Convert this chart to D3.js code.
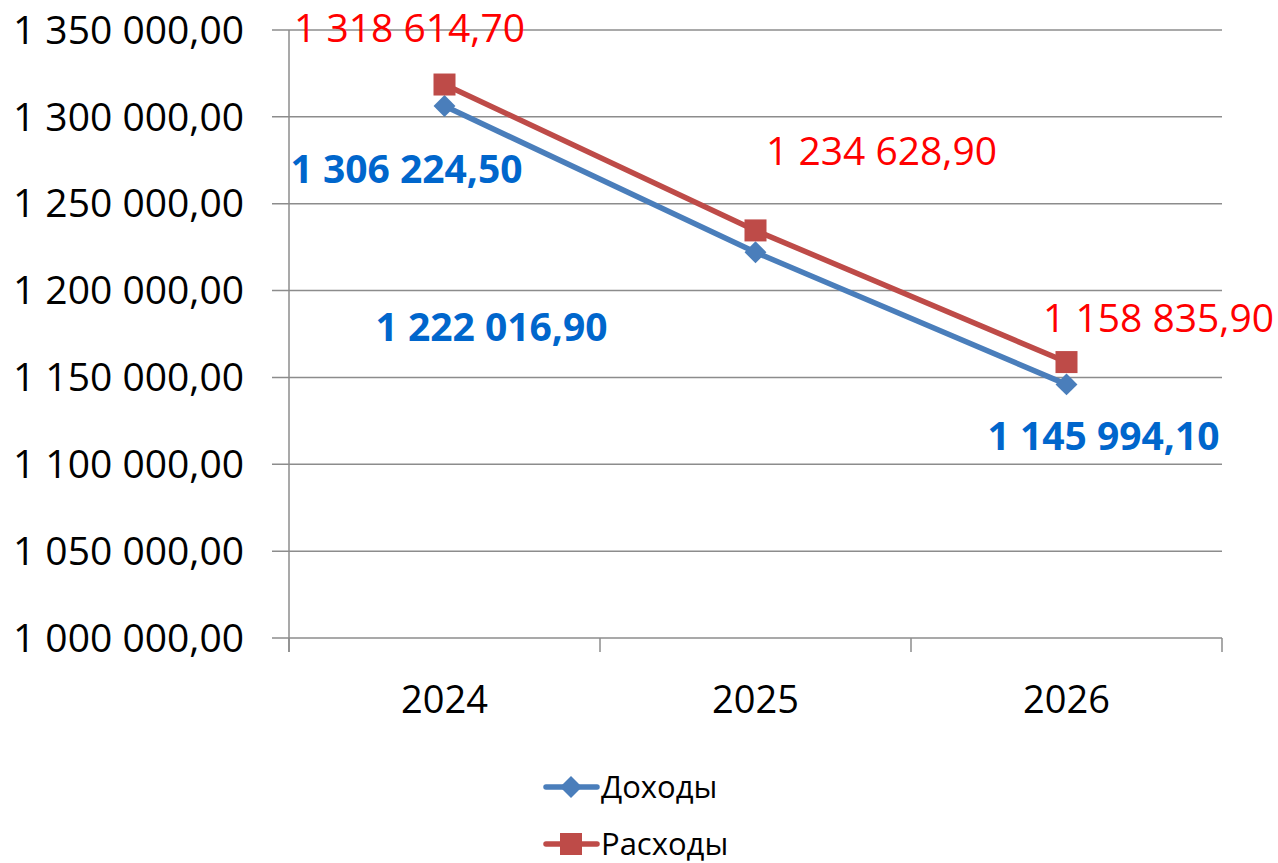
<!DOCTYPE html>
<html>
<head>
<meta charset="utf-8">
<script src="https://cdn.jsdelivr.net/npm/d3@7"></script>
<style>
  body { margin: 0; background: #fff; }
  svg text { font-family: "Open Sans", sans-serif; }
</style>
</head>
<body>
<svg id="chart" width="1278" height="863"></svg>
<script>
// data
var years = ["2024", "2025", "2026"];
var seriesNames = ["Доходы", "Расходы"];
var incomeValues = [1306224.50, 1222016.90, 1145994.10];
var expenseValues = [1318614.70, 1234628.90, 1158835.90];
var yTicks = [1000000, 1050000, 1100000, 1150000, 1200000, 1250000, 1300000, 1350000];

// label nudges (px, relative to the point) as placed in the original
var incomeLabelShift = [[-38, 63], [-264, 75], [37, 52]];
var expenseLabelShift = [[-35, -56], [126, -79], [92, -44]];

var svg = d3.select("#chart");
var margin = { left: 289, right: 1222, top: 30, bottom: 638 };

var x = d3.scaleBand().domain(years).range([margin.left, margin.right]);
var y = d3.scaleLinear().domain([1000000, 1350000]).range([margin.bottom, margin.top]);

var fmt = function(v) {
  var s = v.toFixed(2).split(".");
  var intPart = s[0].replace(/\B(?=(\d{3})+(?!\d))/g, " ");
  return intPart + "," + s[1];
};

var grid = "#8c8c8c";

// gridlines
svg.append("g").selectAll("line").data(yTicks).join("line")
  .attr("x1", margin.left - 17).attr("x2", margin.right)
  .attr("y1", d => y(d)).attr("y2", d => y(d))
  .attr("stroke", grid).attr("stroke-width", 1.5);

// y axis line
svg.append("line")
  .attr("x1", margin.left).attr("x2", margin.left)
  .attr("y1", margin.top).attr("y2", margin.bottom + 14)
  .attr("stroke", grid).attr("stroke-width", 1.5);

// x ticks between categories
var xEdges = years.map(d => x(d)).concat([margin.right]);
svg.append("g").selectAll("line").data(xEdges).join("line")
  .attr("x1", d => d).attr("x2", d => d)
  .attr("y1", margin.bottom).attr("y2", margin.bottom + 14)
  .attr("stroke", grid).attr("stroke-width", 1.5);

// y labels
svg.append("g").selectAll("text").data(yTicks).join("text")
  .attr("x", 244).attr("y", d => y(d))
  .attr("dy", "0.35em")
  .attr("text-anchor", "end")
  .attr("font-size", 39)
  .attr("fill", "#000")
  .text(d => fmt(d));

// x labels
svg.append("g").selectAll("text").data(years).join("text")
  .attr("x", d => x(d) + x.bandwidth() / 2)
  .attr("y", 700).attr("dy", "0.35em")
  .attr("text-anchor", "middle")
  .attr("font-size", 38)
  .attr("fill", "#000")
  .text(d => d);

var blue = "#4a7ebb", red = "#be4b48";
var line = d3.line().x((d, i) => x(years[i]) + x.bandwidth() / 2).y(d => y(d));

svg.append("path").datum(incomeValues).attr("d", line)
  .attr("fill", "none").attr("stroke", blue).attr("stroke-width", 5.5).attr("stroke-linejoin", "round");
svg.append("path").datum(expenseValues).attr("d", line)
  .attr("fill", "none").attr("stroke", red).attr("stroke-width", 5.5).attr("stroke-linejoin", "round");

var diamond = d3.symbol().type(d3.symbolSquare).size(240);
svg.append("g").selectAll("path").data(incomeValues).join("path")
  .attr("d", diamond)
  .attr("transform", (d, i) => "translate(" + (x(years[i]) + x.bandwidth() / 2) + "," + y(d) + ") rotate(45)")
  .attr("fill", blue);

svg.append("g").selectAll("rect").data(expenseValues).join("rect")
  .attr("x", (d, i) => x(years[i]) + x.bandwidth() / 2 - 11)
  .attr("y", d => y(d) - 11)
  .attr("width", 22).attr("height", 22)
  .attr("fill", red);

// data labels
svg.append("g").selectAll("text").data(expenseValues).join("text")
  .attr("x", (d, i) => x(years[i]) + x.bandwidth() / 2 + expenseLabelShift[i][0])
  .attr("y", (d, i) => y(d) + expenseLabelShift[i][1])
  .attr("dy", "0.35em").attr("text-anchor", "middle")
  .attr("font-size", 39).attr("fill", "#ff0000")
  .text(d => fmt(d));

svg.append("g").selectAll("text").data(incomeValues).join("text")
  .attr("x", (d, i) => x(years[i]) + x.bandwidth() / 2 + incomeLabelShift[i][0])
  .attr("y", (d, i) => y(d) + incomeLabelShift[i][1])
  .attr("dy", "0.35em").attr("text-anchor", "middle")
  .attr("font-size", 39).attr("font-weight", "bold").attr("fill", "#0066cc")
  .text(d => fmt(d));

// legend
var legend = svg.append("g").selectAll("g").data(seriesNames).join("g")
  .attr("transform", (d, i) => "translate(0," + (787 + i * 57) + ")");
legend.append("line")
  .attr("x1", 546).attr("x2", 597).attr("y1", 0).attr("y2", 0)
  .attr("stroke", (d, i) => i ? red : blue).attr("stroke-width", 5.5).attr("stroke-linecap", "round");
legend.filter((d, i) => i === 0).append("path")
  .attr("d", diamond).attr("transform", "translate(571,0) rotate(45)").attr("fill", blue);
legend.filter((d, i) => i === 1).append("rect")
  .attr("x", 560).attr("y", -11).attr("width", 22).attr("height", 22).attr("fill", red);
legend.append("text")
  .attr("x", 601).attr("y", 0).attr("dy", "0.35em")
  .attr("font-size", 31).attr("fill", "#000")
  .text(d => d);
</script>
</body>
</html>
